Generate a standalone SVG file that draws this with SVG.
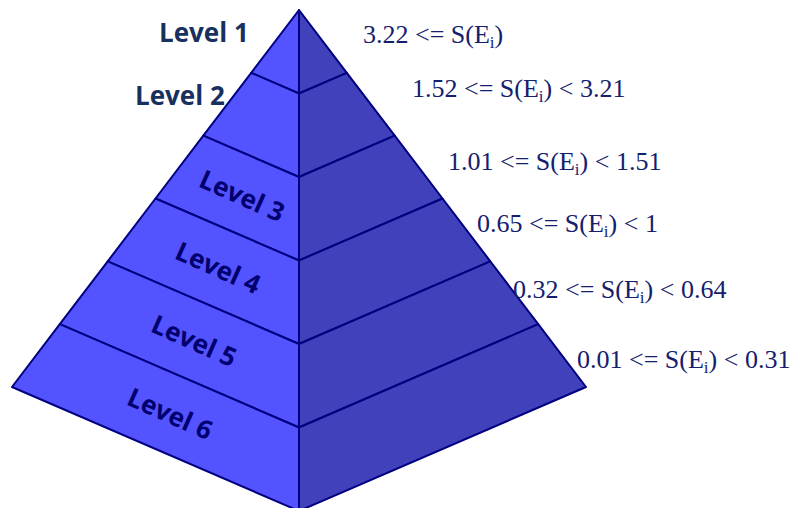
<svg xmlns="http://www.w3.org/2000/svg" width="796" height="508" viewBox="0 0 796 508">
<style>
.lf{fill:#5353FF;stroke:#000080;stroke-width:2;stroke-linejoin:round}
.rf{fill:#4141BB;stroke:#000080;stroke-width:2;stroke-linejoin:round}
.lv{font-family:"Open Sans","Liberation Sans",sans-serif;font-weight:700;font-size:26px;fill:#17305E}
.lr{font-family:"Open Sans","Liberation Sans",sans-serif;font-weight:700;font-size:26px;fill:#00006E;text-anchor:middle}
.rg{font-family:"Liberation Serif","Times New Roman",serif;font-size:26px;fill:#14206E}
.sb{font-size:17px}
</style>
<rect width="796" height="508" fill="#FFFFFF"/>
<g id="level1">
<polygon class="lf" points="299,10 251.2,72.8 299,93.5"/>
<polygon class="rf" points="299,10 299,93.5 346.8,72.8"/>
<text class="lv" x="159" y="42">Level 1</text>
</g>
<g id="level2">
<polygon class="lf" points="251.2,72.8 299,93.5 299,177 203.3,135.7"/>
<polygon class="rf" points="346.8,72.8 299,93.5 299,177 394.7,135.7"/>
<text class="lv" x="135" y="105">Level 2</text>
</g>
<g id="level3">
<polygon class="lf" points="203.3,135.7 299,177 299,260.5 155.5,198.5"/>
<polygon class="rf" points="394.7,135.7 299,177 299,260.5 442.5,198.5"/>
<text class="lr" transform="translate(242,196) rotate(24)" y="9">Level 3</text>
</g>
<g id="level4">
<polygon class="lf" points="155.5,198.5 299,260.5 299,344 107.7,261.3"/>
<polygon class="rf" points="442.5,198.5 299,260.5 299,344 490.3,261.3"/>
<text class="lr" transform="translate(218,268) rotate(24)" y="9">Level 4</text>
</g>
<g id="level5">
<polygon class="lf" points="107.7,261.3 299,344 299,427.5 59.8,324.2"/>
<polygon class="rf" points="490.3,261.3 299,344 299,427.5 538.2,324.2"/>
<text class="lr" transform="translate(194,341) rotate(24)" y="9">Level 5</text>
</g>
<g id="level6">
<polygon class="lf" points="59.8,324.2 299,427.5 299,511 12,387"/>
<polygon class="rf" points="538.2,324.2 299,427.5 299,511 586,387"/>
<text class="lr" transform="translate(170,414) rotate(24)" y="9">Level 6</text>
</g>
<g id="connectors"></g>
<g id="ranges">
<text class="rg" x="363" y="43">3.22 &lt;= S(E<tspan class="sb" dy="5">i</tspan><tspan dy="-5">)</tspan></text>
<text class="rg" x="412" y="97">1.52 &lt;= S(E<tspan class="sb" dy="5">i</tspan><tspan dy="-5">) &lt; 3.21</tspan></text>
<text class="rg" x="448" y="170">1.01 &lt;= S(E<tspan class="sb" dy="5">i</tspan><tspan dy="-5">) &lt; 1.51</tspan></text>
<text class="rg" x="477" y="232">0.65 &lt;= S(E<tspan class="sb" dy="5">i</tspan><tspan dy="-5">) &lt; 1</tspan></text>
<text class="rg" x="513" y="298">0.32 &lt;= S(E<tspan class="sb" dy="5">i</tspan><tspan dy="-5">) &lt; 0.64</tspan></text>
<text class="rg" x="577" y="368">0.01 &lt;= S(E<tspan class="sb" dy="5">i</tspan><tspan dy="-5">) &lt; 0.31</tspan></text>
</g>
</svg>
